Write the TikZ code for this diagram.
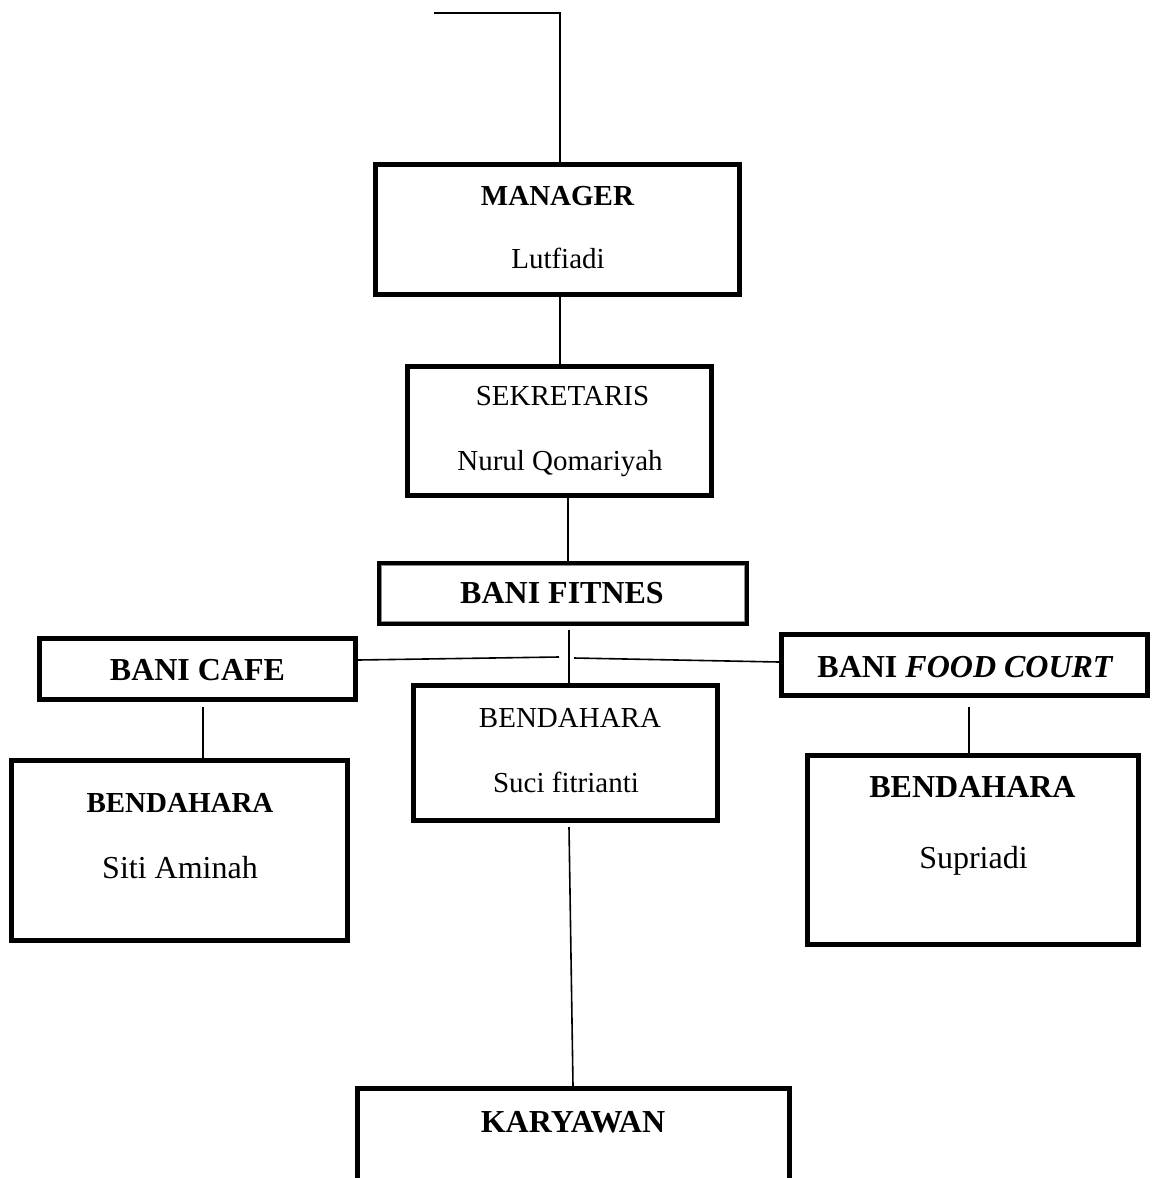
\documentclass[tikz,border=0pt]{standalone}
\usepackage{fontspec}
\setmainfont{Liberation Serif}
\begin{document}
\begin{tikzpicture}[x=1pt,y=1pt,
  box/.style={draw=black, line width=5pt, rectangle, inner sep=0pt},
  conn/.style={draw=black, line width=1.6pt},
  txa/.style={anchor=base, inner sep=0pt, font=\fontsize{29}{34}\selectfont},
  txb/.style={anchor=base, inner sep=0pt, font=\fontsize{32}{38}\selectfont},
]
\useasboundingbox (0,0) rectangle (1152,-1178);
\clip (0,0) rectangle (1152,-1178);

% boxes
\node[box, minimum width=364pt, minimum height=130pt] (mgr)  at (557.5,-229.5) {};
\node[box, minimum width=304pt, minimum height=129pt] (sek)  at (559.5,-431) {};
\node[box, minimum width=367pt, minimum height=60pt]  (fit)  at (563,-593.5) {};
\node[box, minimum width=316pt, minimum height=61pt]  (cafe) at (197.5,-669) {};
\node[box, minimum width=304pt, minimum height=135pt] (bc)   at (565.5,-753) {};
\node[box, minimum width=366pt, minimum height=61pt]  (food) at (964.5,-665) {};
\node[box, minimum width=336pt, minimum height=180pt] (bl)   at (179.5,-850.5) {};
\node[box, minimum width=331pt, minimum height=189pt] (br)   at (973,-850) {};
\node[box, minimum width=432pt, minimum height=101pt] (kar)  at (573.5,-1139) {};
\draw[black!45, line width=1pt] ([shift={(4.5,-4.5)}]fit.north west) rectangle ([shift={(-4.5,4.5)}]fit.south east);

% texts
\node[txa] (t1)  at (557.5,-205) {\bfseries MANAGER};
\node[txa] (t2)  at (558,-268) {Lutfiadi};
\node[txa] (t3)  at (562.5,-405) {SEKRETARIS};
\node[txa] (t4)  at (560,-470) {Nurul Qomariyah};
\node[txb] (t5)  at (562,-603) {\bfseries BANI FITNES};
\node[txb] (t6)  at (197.5,-680) {\bfseries BANI CAFE};
\node[txb] (t7)  at (965,-677) {\bfseries BANI \itshape FOOD COURT};
\node[txa] (t8)  at (570,-727) {BENDAHARA};
\node[txa] (t9)  at (566,-792) {Suci fitrianti};
\node[txa] (t10) at (180,-812) {\bfseries BENDAHARA};
\node[txb] (t11) at (180,-878) {Siti Aminah};
\node[txb] (t12) at (972.5,-797) {\bfseries BENDAHARA};
\node[txb] (t13) at (973.5,-868) {Supriadi};
\node[txb] (t14) at (573,-1132) {\bfseries KARYAWAN};

% connectors
\coordinate (tl) at (434,-13);
\coordinate (tr) at (560,-13);
\coordinate (jl) at (559,-657);
\coordinate (jr) at (574,-658);
\draw[conn] (tl) -- (tr) -- ([xshift=2.5pt]mgr.north);
\draw[conn] ([xshift=2.5pt]mgr.south) -- ([xshift=0.5pt]sek.north);
\draw[conn] ([xshift=8.5pt]sek.south) -- ([xshift=5pt]fit.north);
\draw[conn] ([xshift=6pt,yshift=-4pt]fit.south) -- ([xshift=3.5pt]bc.north);
\draw[conn] ([yshift=9pt]cafe.east) -- (jl);
\draw[conn] (jr) -- ([yshift=3pt]food.west);
\draw[conn] ([xshift=5.5pt,yshift=-5pt]cafe.south) -- ([xshift=23.5pt]bl.north);
\draw[conn] ([xshift=4.5pt,yshift=-9pt]food.south) -- ([xshift=-4pt]br.north);
\draw[conn] ([xshift=3.5pt,yshift=-4pt]bc.south) -- ([xshift=-0.5pt]kar.north);
\end{tikzpicture}
\end{document}
